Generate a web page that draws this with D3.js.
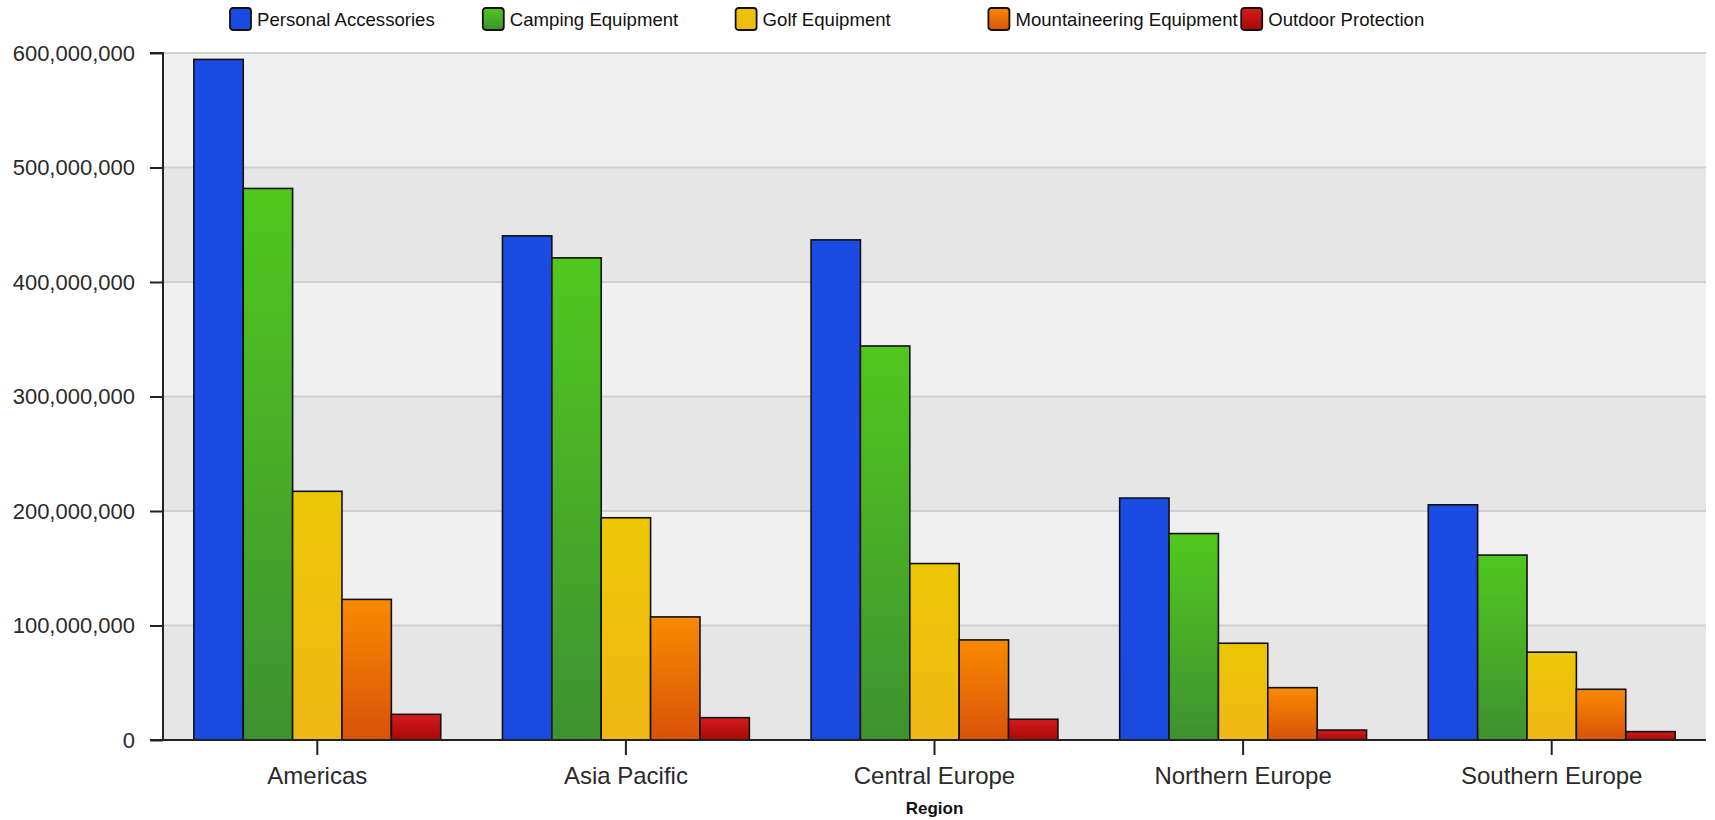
<!DOCTYPE html>
<html><head><meta charset="utf-8">
<script src="https://cdn.jsdelivr.net/npm/d3@7"></script>
<style>body{margin:0;background:#fff}svg{display:block}</style>
</head><body><div id="chart"></div>
<script>
const categories = ["Americas","Asia Pacific","Central Europe","Northern Europe","Southern Europe"];
const seriesNames = ["Personal Accessories","Camping Equipment","Golf Equipment","Mountaineering Equipment","Outdoor Protection"];
const personalAccessories = [594.4e6, 440.3e6, 436.8e6, 211.3e6, 205.4e6];
const campingEquipment = [481.7e6, 421.1e6, 344.1e6, 180.3e6, 161.5e6];
const golfEquipment = [217.2e6, 194.1e6, 154.1e6, 84.5e6, 76.7e6];
const mountaineeringEquipment = [122.8e6, 107.5e6, 87.4e6, 45.7e6, 44.3e6];
const outdoorProtection = [22.4e6, 19.5e6, 18.1e6, 8.7e6, 7.3e6];
const yTicks = [0,100e6,200e6,300e6,400e6,500e6,600e6];
const seriesValues = [personalAccessories, campingEquipment, golfEquipment, mountaineeringEquipment, outdoorProtection];
const gradTop = ["#1a4be3","#50c81e","#ebc704","#f98a00","#d81b1b"];
const gradBot = ["#1a4ae0","#3f9131","#f1b716","#d9520a","#a60808"];

const W=1715,H=820;
const L=163,R=1706,T=53,B=740;
const svg=d3.select("#chart").append("svg").attr("width",W).attr("height",H);
const defs=svg.append("defs");
seriesNames.forEach((s,i)=>{
  const g=defs.append("linearGradient").attr("id","g"+i).attr("x1",0).attr("y1",0).attr("x2",0).attr("y2",1);
  g.append("stop").attr("offset","0%").attr("stop-color",gradTop[i]);
  g.append("stop").attr("offset","100%").attr("stop-color",gradBot[i]);
});

const y=d3.scaleLinear().domain([0,600e6]).range([B,T]);
const x0=d3.scaleBand().domain(categories).range([L,R]).paddingInner(0.2).paddingOuter(0.1);
const x1=d3.scaleBand().domain(seriesNames).range([0,x0.bandwidth()]);

// background bands
for(let k=0;k<yTicks.length-1;k++){
  svg.append("rect").attr("x",L).attr("width",R-L)
    .attr("y",y(yTicks[k+1])).attr("height",y(yTicks[k])-y(yTicks[k+1]))
    .attr("fill", k%2===0 ? "#e6e6e6" : "#f0f0f0");
}
// gridlines
svg.append("g").selectAll("line").data(yTicks.slice(1)).join("line")
  .attr("x1",L).attr("x2",R).attr("y1",d=>y(d)).attr("y2",d=>y(d))
  .attr("stroke","#d0d0d0").attr("stroke-width",2);

// bars
const gg=svg.append("g").selectAll("g").data(categories).join("g")
  .attr("transform",d=>`translate(${x0(d)},0)`);
gg.selectAll("rect").data((c,ci)=>seriesNames.map((s,si)=>({s,si,v:seriesValues[si][ci]}))).join("rect")
  .attr("x",d=>x1(d.s)).attr("width",x1.bandwidth())
  .attr("y",d=>y(d.v)).attr("height",d=>B-y(d.v))
  .attr("fill",d=>`url(#g${d.si})`).attr("stroke","#111").attr("stroke-width",1.6);

// y axis
const ya=svg.append("g").attr("transform",`translate(${L},0)`)
  .call(d3.axisLeft(y).tickValues(yTicks).tickFormat(d3.format(",")).tickSize(13).tickPadding(15));
ya.select(".domain").attr("stroke","#222").attr("stroke-width",2).attr("d",`M-13,${T}H0V${B}H-13`);
ya.selectAll(".tick line").attr("stroke","#222").attr("stroke-width",2);
ya.selectAll("text").attr("font-family","Liberation Sans, Arial, sans-serif").attr("font-size",22).attr("fill","#2a2a2a");

// x axis
const xa=svg.append("g").attr("transform",`translate(0,${B})`)
  .call(d3.axisBottom(x0).tickSize(15).tickPadding(12));
xa.select(".domain").attr("stroke","#222").attr("stroke-width",2).attr("d",`M${L},0H${R}`);
xa.selectAll(".tick line").attr("stroke","#222").attr("stroke-width",2);
xa.selectAll("text").attr("font-family","Liberation Sans, Arial, sans-serif").attr("font-size",24).attr("fill","#2a2a2a");

svg.append("text").attr("x",(L+R)/2).attr("y",814).attr("text-anchor","middle")
  .attr("font-family","Liberation Sans, Arial, sans-serif").attr("font-weight","bold").attr("font-size",17).attr("fill","#111").text("Region");

// legend
const lg=svg.append("g").selectAll("g").data(seriesNames).join("g")
  .attr("transform",(d,i)=>`translate(${230+i*252.8},8)`);
lg.append("rect").attr("width",21).attr("height",22).attr("rx",3).attr("ry",3)
  .attr("fill",(d,i)=>`url(#g${i})`).attr("stroke","#111").attr("stroke-width",1.8);
lg.append("text").attr("x",27).attr("y",18).text(d=>d)
  .attr("font-family","Liberation Sans, Arial, sans-serif").attr("font-size",18.6).attr("fill","#111");
</script></body></html>
